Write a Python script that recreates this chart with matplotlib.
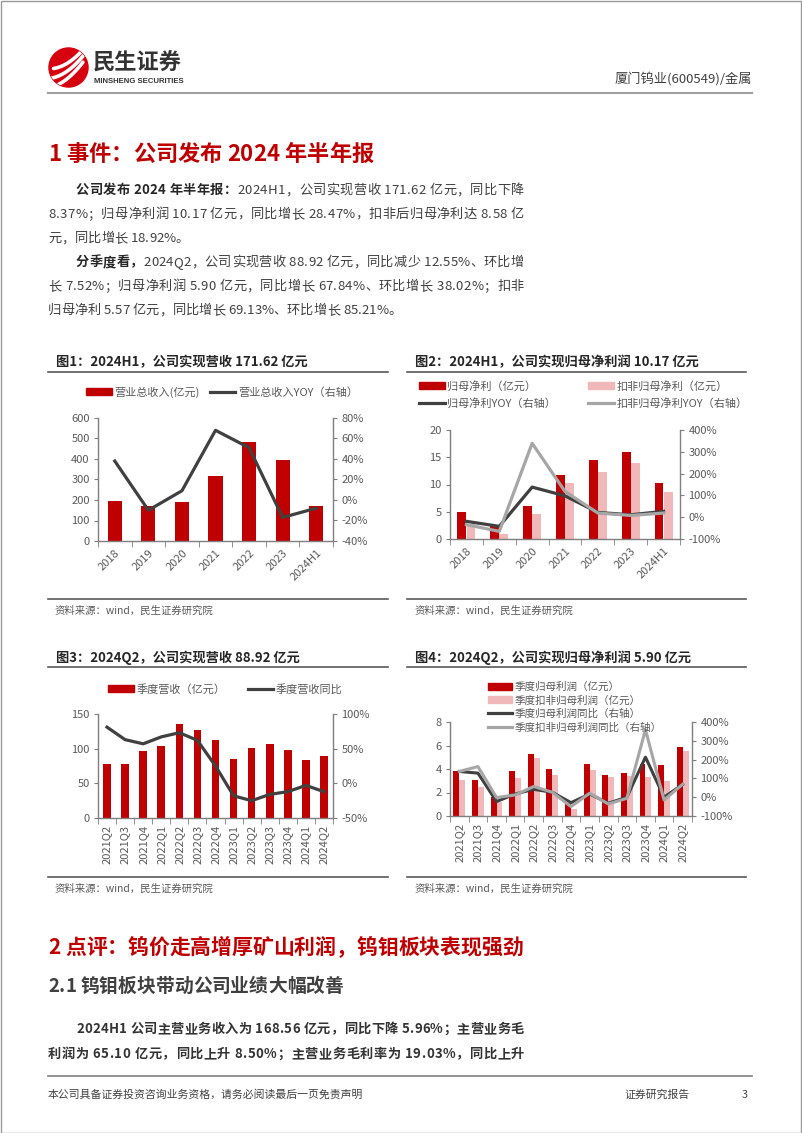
import numpy as np
import matplotlib
matplotlib.use("Agg")
import matplotlib.pyplot as plt
from matplotlib.font_manager import FontProperties
from matplotlib.patches import Circle, Rectangle, Patch
from matplotlib.lines import Line2D
from matplotlib.ticker import FuncFormatter, MultipleLocator

plt.rcParams['font.family'] = ['Noto Sans CJK SC', 'DejaVu Sans']
plt.rcParams['axes.unicode_minus'] = False

W, H = 802, 1133
RED = '#C00000'
PINK = '#F0B8B8'
DARK = '#404040'
GREY = '#A6A6A6'
TXT = '#595959'
AXC = '#7F7F7F'
BODY = '#404040'

### DATA ###
years = ['2018', '2019', '2020', '2021', '2022', '2023', '2024H1']
revenue = [195, 172, 189, 319, 481, 393, 171]
revenue_yoy = [38, -10, 9, 68, 51, -17, -8]
profit = [4.9, 2.3, 6.1, 11.8, 14.5, 16.0, 10.2]
profit_ded = [2.8, 1.0, 4.6, 10.2, 12.3, 14.0, 8.6]
profit_yoy = [-19, -42, 138, 98, 22, 11, 27]
profit_ded_yoy = [-34, -65, 339, 118, 19, 8, 19]

quarters = ['2021Q2', '2021Q3', '2021Q4', '2022Q1', '2022Q2', '2022Q3', '2022Q4',
            '2023Q1', '2023Q2', '2023Q3', '2023Q4', '2024Q1', '2024Q2']
q_revenue = [78, 78, 96, 104, 136, 127, 112, 85, 101, 107, 98, 83, 89]
q_revenue_yoy = [81, 63, 57, 67, 73, 62, 25, -18, -25, -16, -12, -3, -12]
q_profit = [3.8, 3.1, 1.6, 3.8, 5.3, 4.0, 1.1, 4.4, 3.5, 3.7, 4.4, 4.3, 5.9]
q_profit_ded = [3.1, 2.5, 1.2, 3.2, 4.9, 3.5, 0.6, 3.9, 3.3, 3.4, 3.3, 3.0, 5.57]
q_profit_yoy = [137, 128, -23, 17, 42, 26, -29, 17, -32, 0, 213, 0, 68]
q_profit_ded_yoy = [137, 163, -2, 12, 57, 26, -50, 21, -36, -6, 359, -15, 69]

fig = plt.figure(figsize=(W / 100, H / 100), dpi=100)
fig.patch.set_facecolor('white')
renderer = fig.canvas.get_renderer()


def fy(y):
    return 1 - y / H


def add_ax(l, t, r, b):
    return fig.add_axes([l / W, 1 - b / H, (r - l) / W, (b - t) / H])


def fprop(size, bold=False):
    return FontProperties(family=['Noto Sans CJK SC', 'DejaVu Sans'], size=size,
                          weight='bold' if bold else 'normal')


def advance(ch, fp):
    w2, _, _ = renderer.get_text_width_height_descent('中中', fp, ismath=False)
    w3, _, _ = renderer.get_text_width_height_descent('中' + ch + '中', fp, ismath=False)
    return w3 - w2


def text_line(segments, x0, base, size, x1=None, color=BODY):
    # draw a line char by char, stretched to x1 when given (justified text)
    chars = []
    for s, bold, col in segments:
        fp = fprop(size, bold)
        for ch in s:
            chars.append((ch, fp, col or color))
    widths = [advance(c, fp) for c, fp, _ in chars]
    extra = 0.0
    if x1 is not None and len(chars) > 1:
        extra = (x1 - x0 - sum(widths)) / (len(chars) - 1)
    x = x0
    for (c, fp, col), w in zip(chars, widths):
        if c != ' ':
            fig.text(x / W, fy(base), c, fontproperties=fp, color=col, va='baseline', ha='left')
        x += w + extra


def hline(x0, x1, y, color='#595959', lw=1.2):
    fig.add_artist(Line2D([x0 / W, x1 / W], [fy(y), fy(y)], color=color, lw=lw))


### PAGE FRAME / HEADER ###
fig.add_artist(Rectangle((0.5 / W, 0.5 / H), (W - 1.5) / W, (H - 1.5) / H, fill=False,
                         edgecolor='#9A9A9A', lw=1.0, transform=fig.transFigure))

logo = add_ax(48, 47, 89, 88)
logo.set_xlim(-1.05, 1.05)
logo.set_ylim(-1.05, 1.05)
logo.set_aspect('equal')
logo.axis('off')
disc = Circle((0, 0), 1.0, color='#D7000F')
logo.add_patch(disc)
t = np.linspace(-1.2, 1.2, 50)
for off in (-0.55, -0.05, 0.45):
    ln, = logo.plot(t * 0.75 + off * 0.3, 0.55 * t + 0.18 * t ** 2 + off - 0.1, color='white', lw=2.6,
                    solid_capstyle='round')
    ln.set_clip_path(disc)

fig.text(93 / W, fy(70), '民生证券', fontproperties=fprop(16, True), color='#333333', va='baseline')
fig.text(94 / W, fy(83), 'MINSHENG SECURITIES', fontsize=5.6, fontweight='bold',
         family='Liberation Sans', color='#333333', va='baseline')
fig.text(752 / W, fy(83), '厦门钨业(600549)/金属', fontproperties=fprop(9.5), color=BODY,
         va='baseline', ha='right')
hline(48, 752, 93, color='#A0A0A0', lw=1.5)

### SECTION 1 ###
text_line([('1 事件：公司发布 2024 年半年报', True, RED)], 48, 161, 16)
body = [
    ([('公司发布 2024 年半年报：', True, '#262626'), ('2024H1，公司实现营收 171.62 亿元，同比下降', False, None)], 76, 194, True),
    ([('8.37%；归母净利润 10.17 亿元，同比增长 28.47%，扣非后归母净利达 8.58 亿', False, None)], 48, 218, True),
    ([('元，同比增长 18.92%。', False, None)], 48, 242, False),
    ([('分季度看，', True, '#262626'), ('2024Q2，公司实现营收 88.92 亿元，同比减少 12.55%、环比增', False, None)], 76, 266, True),
    ([('长 7.52%；归母净利润 5.90 亿元，同比增长 67.84%、环比增长 38.02%；扣非', False, None)], 48, 290, True),
    ([('归母净利 5.57 亿元，同比增长 69.13%、环比增长 85.21%。', False, None)], 48, 314, False),
]
for segs, x0, base, just in body:
    text_line(segs, x0, base, 9.5, x1=524 if just else None)

### FIGURE TITLES / SOURCES ###
fig.text(56 / W, fy(366), '图1：2024H1，公司实现营收 171.62 亿元', fontproperties=fprop(9.5, True),
         color='#262626', va='baseline')
fig.text(415 / W, fy(366), '图2：2024H1，公司实现归母净利润 10.17 亿元', fontproperties=fprop(9.5, True),
         color='#262626', va='baseline')
fig.text(56 / W, fy(662), '图3：2024Q2，公司实现营收 88.92 亿元', fontproperties=fprop(9.5, True),
         color='#262626', va='baseline')
fig.text(415 / W, fy(662), '图4：2024Q2，公司实现归母净利润 5.90 亿元', fontproperties=fprop(9.5, True),
         color='#262626', va='baseline')
for y in (372, 599, 667, 877):
    hline(48, 388, y)
    hline(407, 746, y)
for y in (614, 892):
    fig.text(55 / W, fy(y), '资料来源：wind，民生证券研究院', fontproperties=fprop(7.5), color=TXT, va='baseline')
    fig.text(415 / W, fy(y), '资料来源：wind，民生证券研究院', fontproperties=fprop(7.5), color=TXT, va='baseline')


def style_axes(ax, ax2, labels, rot):
    n = len(labels)
    for a in (ax, ax2):
        a.spines['top'].set_visible(False)
        for s in ('left', 'right', 'bottom'):
            a.spines[s].set_color(AXC)
            a.spines[s].set_linewidth(1.0)
        a.set_facecolor('none')
    ax.spines['right'].set_visible(False)
    ax2.spines['left'].set_visible(False)
    ax2.spines['bottom'].set_visible(False)
    ax.set_xlim(-0.5, n - 0.5)
    ax.set_xticks(range(n))
    if rot == 45:
        ax.set_xticklabels(labels, rotation=45, ha='right', va='top', rotation_mode='anchor')
    else:
        ax.set_xticklabels(labels, rotation=90, ha='center', va='top')
    ax.set_xticks(np.arange(-0.5, n, 1.0), minor=True)
    ax.tick_params(axis='x', which='major', length=0, pad=5, labelsize=8, labelcolor=TXT)
    ax.tick_params(axis='x', which='minor', length=4, color=AXC)
    ax.tick_params(axis='y', length=3, color=AXC, labelsize=8, labelcolor=TXT, pad=3)
    ax2.tick_params(axis='y', length=3, color=AXC, labelsize=8, labelcolor=TXT, pad=3)
    ax2.yaxis.set_major_formatter(FuncFormatter(lambda v, p: '{:.0f}%'.format(v)))


def legend(handles, labels, x, y, ncol, colsp=1.0, size=8, lsp=0.3):
    fig.legend(handles, labels, loc='center left', bbox_to_anchor=(x / W, fy(y)), ncol=ncol,
               frameon=False, prop=fprop(size), handlelength=2.3, handleheight=0.65,
               handletextpad=0.25, columnspacing=colsp, borderpad=0, borderaxespad=0,
               labelspacing=lsp, labelcolor=TXT)


### CHART 1 ###
ax = add_ax(98, 418, 333, 541)
ax2 = ax.twinx()
x = np.arange(len(years))
ax.bar(x, revenue, width=0.42, color=RED, zorder=2)
ax2.plot(x, revenue_yoy, color=DARK, lw=2.3)
ax.set_ylim(0, 600)
ax.yaxis.set_major_locator(MultipleLocator(100))
ax2.set_ylim(-40, 80)
ax2.yaxis.set_major_locator(MultipleLocator(20))
style_axes(ax, ax2, years, 45)
legend([Patch(color=RED), Line2D([], [], color=DARK, lw=2.3)],
       ['营业总收入(亿元)', '营业总收入YOY（右轴）'], 86, 392, 2, colsp=0.9)

### CHART 2 ###
ax = add_ax(450, 430, 680, 539)
ax2 = ax.twinx()
ax.bar(x - 0.14, profit, width=0.27, color=RED, zorder=2)
ax.bar(x + 0.14, profit_ded, width=0.27, color=PINK, zorder=2)
ax2.plot(x, profit_yoy, color=DARK, lw=2.3)
ax2.plot(x, profit_ded_yoy, color=GREY, lw=2.3)
ax.set_ylim(0, 20)
ax.yaxis.set_major_locator(MultipleLocator(5))
ax2.set_ylim(-100, 400)
ax2.yaxis.set_major_locator(MultipleLocator(100))
style_axes(ax, ax2, years, 45)
legend([Patch(color=RED), Line2D([], [], color=DARK, lw=2.3), Patch(color=PINK),
        Line2D([], [], color=GREY, lw=2.3)],
       ['归母净利（亿元）', '归母净利YOY（右轴）', '扣非归母净利（亿元）', '扣非归母净利YOY（右轴）'],
       419, 395, 2, colsp=2.9, lsp=0.6)

### CHART 3 ###
ax = add_ax(98, 714, 333, 818)
ax2 = ax.twinx()
xq = np.arange(len(quarters))
ax.bar(xq, q_revenue, width=0.42, color=RED, zorder=2)
ax2.plot(xq, q_revenue_yoy, color=DARK, lw=2.3)
ax.set_ylim(0, 150)
ax.yaxis.set_major_locator(MultipleLocator(50))
ax2.set_ylim(-50, 100)
ax2.yaxis.set_major_locator(MultipleLocator(50))
style_axes(ax, ax2, quarters, 90)
legend([Patch(color=RED), Line2D([], [], color=DARK, lw=2.3)],
       ['季度营收（亿元）', '季度营收同比'], 108, 689, 2, colsp=2.0)

### CHART 4 ###
ax = add_ax(450, 722, 692, 816)
ax2 = ax.twinx()
ax.bar(xq - 0.16, q_profit, width=0.32, color=RED, zorder=2)
ax.bar(xq + 0.16, q_profit_ded, width=0.32, color=PINK, zorder=2)
ax2.plot(xq, q_profit_yoy, color=DARK, lw=2.2)
ax2.plot(xq, q_profit_ded_yoy, color=GREY, lw=2.2)
ax.set_ylim(0, 8)
ax.yaxis.set_major_locator(MultipleLocator(2))
ax2.set_ylim(-100, 400)
ax2.yaxis.set_major_locator(MultipleLocator(100))
style_axes(ax, ax2, quarters, 90)
legend([Patch(color=RED), Patch(color=PINK), Line2D([], [], color=DARK, lw=2.3),
        Line2D([], [], color=GREY, lw=2.3)],
       ['季度归母利润（亿元）', '季度扣非归母利润（亿元）', '季度归母利润同比（右轴）', '季度扣非归母利润同比（右轴）'],
       488, 707, 1, size=7.6, lsp=0.3)

### SECTION 2 ###
text_line([('2 点评：钨价走高增厚矿山利润，钨钼板块表现强劲', True, RED)], 48, 954, 15, x1=523)
text_line([('2.1 钨钼板块带动公司业绩大幅改善', True, '#404040')], 48, 992, 13.5)
text_line([('2024H1 公司主营业务收入为 168.56 亿元，同比下降 5.96%；主营业务毛', True, '#333333')],
          76, 1033, 9.5, x1=524)
text_line([('利润为 65.10 亿元，同比上升 8.50%；主营业务毛利率为 19.03%，同比上升', True, '#333333')],
          48, 1058, 9.5, x1=524)

### FOOTER ###
hline(48, 752, 1076, color='#808080', lw=1.2)
fig.text(48 / W, fy(1098), '本公司具备证券投资咨询业务资格，请务必阅读最后一页免责声明', fontproperties=fprop(7.8),
         color=BODY, va='baseline')
fig.text(624 / W, fy(1098), '证券研究报告', fontproperties=fprop(7.8), color=BODY, va='baseline')
fig.text(742 / W, fy(1098), '3', fontproperties=fprop(7.8), color=BODY, va='baseline')

fig.savefig('out.png', dpi=100)
